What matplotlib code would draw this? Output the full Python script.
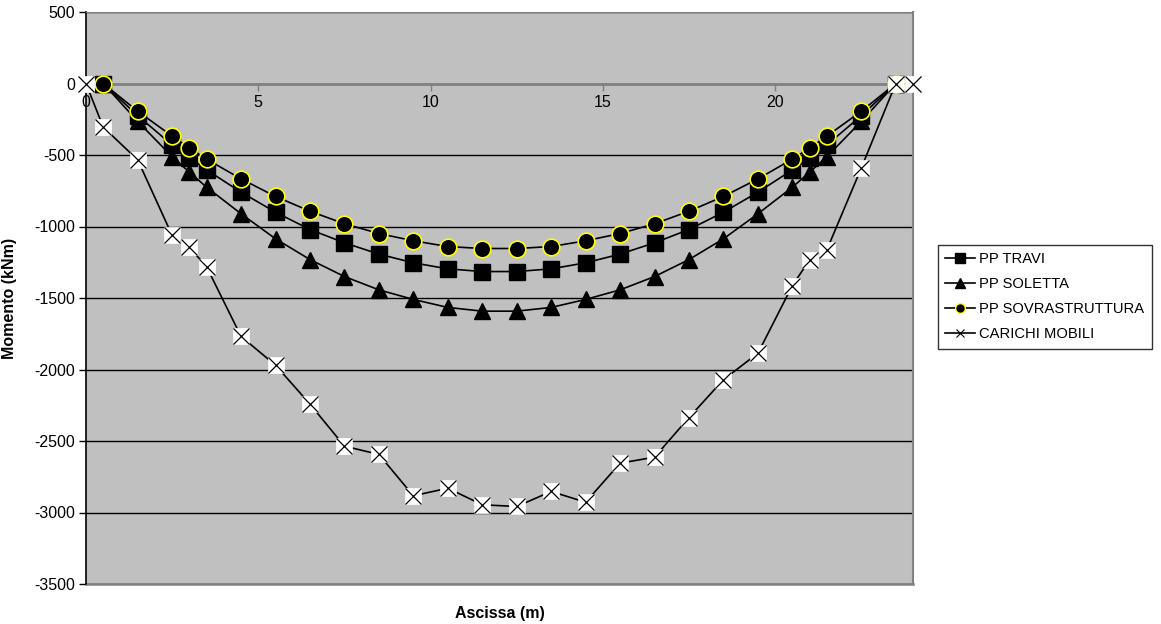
import numpy as np
import matplotlib
matplotlib.use('Agg')
from matplotlib import pyplot as plt
from matplotlib.lines import Line2D

plt.rcParams['font.family'] = ['Liberation Sans', 'DejaVu Sans']
plt.rcParams['axes.unicode_minus'] = False

# ascisse (m)
x_pp  = [0.5, 1.5, 2.5, 3.0, 3.5, 4.5, 5.5, 6.5, 7.5, 8.5, 9.5, 10.5, 11.5,
         12.5, 13.5, 14.5, 15.5, 16.5, 17.5, 18.5, 19.5, 20.5, 21.0, 21.5, 22.5, 23.5]
x_mob = [0.0] + x_pp + [24.0]

# momenti (kNm)
travi   = [0, -225, -430, -520, -604, -760, -900, -1021, -1114, -1193, -1254, -1296, -1315,
           -1315, -1296, -1254, -1193, -1114, -1021, -900, -760, -604, -520, -430, -225, 0]
soletta = [0, -265, -512, -620, -725, -911, -1086, -1231, -1350, -1443, -1510, -1566, -1592,
           -1592, -1566, -1510, -1443, -1350, -1231, -1086, -911, -725, -620, -512, -265, 0]
sovra   = [0, -194, -368, -452, -529, -667, -790, -893, -981, -1049, -1100, -1140, -1154,
           -1154, -1140, -1100, -1049, -981, -893, -790, -667, -529, -452, -368, -194, 0]
mobili  = [0, -305, -534, -1062, -1145, -1282, -1769, -1970, -2242, -2536, -2594, -2883, -2830,
           -2946, -2958, -2853, -2928, -2655, -2613, -2336, -2071, -1886, -1413, -1233, -1163,
           -591, 0, 0]

labels = ['PP TRAVI', 'PP SOLETTA', 'PP SOVRASTRUTTURA', 'CARICHI MOBILI']


fig = plt.figure(figsize=(11.61, 6.24), dpi=100)
ax  = fig.add_axes([86/1161, 1-584/624, (913-86)/1161, (584-12)/624])
ax.set_facecolor('#C0C0C0')

lw = 1.2
ms = 12
ax.plot(x_pp, travi, '-', color='k', lw=lw, marker='s', ms=ms, mfc='k', mec='k', zorder=3)
ax.plot(x_pp, soletta, '-', color='k', lw=lw, marker='^', ms=ms, mfc='k', mec='k', zorder=3)
ax.plot(x_pp, sovra, '-', color='k', lw=lw, marker='o', ms=ms, mfc='k', mec='#FFFF00', mew=1.2, zorder=3)
ax.plot(x_mob, mobili, '-', color='k', lw=lw, zorder=4)
ax.plot(x_mob, mobili, 's', ms=11.5, mfc='white', mec='white', mew=0.5, zorder=4, clip_on=False)
ax.plot(x_mob, mobili, 'x', ms=11.5, mec='k', mew=0.9, zorder=5, clip_on=False)

ax.set_xlim(0, 24)
ax.set_ylim(-3500, 500)
ax.set_xticks([0, 5, 10, 15, 20])
ax.set_yticks(np.arange(-3500, 501, 500))

ax.grid(axis='y', color='k', lw=1.0)
ax.set_axisbelow(True)

ax.spines['bottom'].set_position(('data', 0))
ax.spines['bottom'].set_color('#808080')
ax.spines['bottom'].set_linewidth(1.8)
ax.spines['bottom'].set_zorder(2.5)
ax.spines['top'].set_color('#808080')
ax.spines['right'].set_color('#808080')
ax.spines['right'].set_linewidth(1.5)
ax.spines['left'].set_color('k')
ax.spines['left'].set_linewidth(1.2)
ax.axhline(-3500, color='#808080', lw=1.8, clip_on=False)

ax.tick_params(axis='both', labelsize=11.5, length=5, width=1, direction='out')
ax.tick_params(axis='x', colors='#808080', labelcolor='k', pad=3)
ax.tick_params(axis='y', pad=3)

ax.set_xlabel('Ascissa (m)', fontsize=11.5, fontweight='bold', labelpad=0)
ax.xaxis.set_label_coords(0.5, -0.038)
ax.set_ylabel('Momento (kNm)', fontsize=11.5, fontweight='bold')
ax.yaxis.set_label_coords(-0.083, 0.5)

handles = [
    Line2D([], [], color='k', lw=lw, marker='s', ms=7, mfc='k', mec='k'),
    Line2D([], [], color='k', lw=lw, marker='^', ms=7, mfc='k', mec='k'),
    Line2D([], [], color='k', lw=lw, marker='o', ms=7, mfc='k', mec='#FFFF00'),
    Line2D([], [], color='k', lw=lw, marker='x', ms=6, mec='k', mew=0.8),
]
leg = fig.legend(handles, labels, loc='upper left', bbox_to_anchor=(938/1161, 1-245/624),
                 fontsize=10.6, frameon=True, fancybox=False, edgecolor='k',
                 handlelength=2.0, handletextpad=0.3, labelspacing=0.75,
                 borderpad=0.5, borderaxespad=0)
leg.get_frame().set_linewidth(1.0)

fig.savefig('out.png', dpi=100)
